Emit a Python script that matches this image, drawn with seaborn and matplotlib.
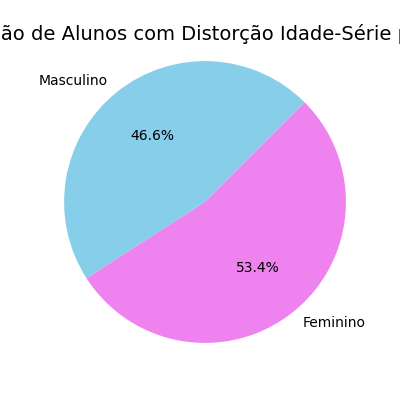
import matplotlib
matplotlib.use("Agg")
import matplotlib.pyplot as plt
import seaborn as sns

# distortion age-grade by sex
sexo = ["Masculino", "Feminino"]
percentuais = [46.6, 53.4]
cores = ["skyblue", "violet"]

sns.set_theme(
    style="white",
    context="notebook",
    rc={
        "text.color": "black",
        "patch.force_edgecolor": False,
        "font.size": 10,
    },
)
plt.rcParams["font.family"] = ["DejaVu Sans"]

fig = plt.figure(figsize=(4, 4), dpi=100)
plt.pie(percentuais, labels=sexo, colors=cores, autopct="%1.1f%%", startangle=45,
        textprops={"fontsize": 10})
plt.title("Proporção de Alunos com Distorção Idade-Série por Sexo", fontsize=14)
plt.axis("equal")
plt.savefig("out.png", dpi=100)
